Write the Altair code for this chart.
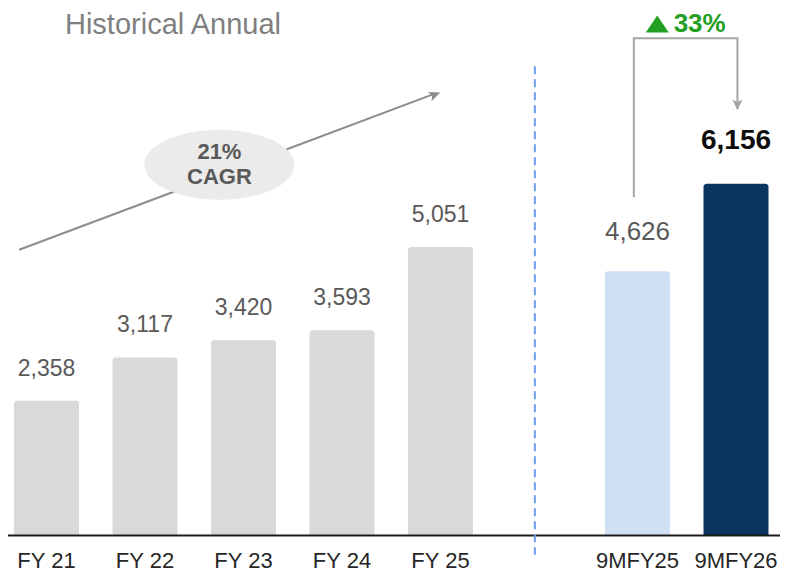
import altair as alt
import pandas as pd

# ---------------- data ----------------
categories = ["FY 21", "FY 22", "FY 23", "FY 24", "FY 25", "9MFY25", "9MFY26"]
values = [2358, 3117, 3420, 3593, 5051, 4626, 6156]
slots = [0, 1, 2, 3, 4, 6, 7]
groups = ["hist", "hist", "hist", "hist", "hist", "prev", "curr"]
bar_colors = ["#d9d9d9", "#d9d9d9", "#d9d9d9", "#d9d9d9", "#d9d9d9", "#cfe0f2", "#0b355f"]

title_text = "Historical Annual"
cagr_lines = ["21%", "CAGR"]
growth_text = "33%"

# annotation anchors (slot units, value units)
cagr_arrow_x = [-0.2775, 3.95]
cagr_arrow_y = [5002, 7740]
cagr_tip = (3.9975, 7757)
cagr_bubble = (1.7554, 6490)
cagr_text_y = [6708, 6273]
divider_x = 4.958
divider_y = [8213, -335]
bracket_x = [5.9627, 5.9627, 7.0145, 7.0145]
bracket_y = [5922, 8705, 8705, 7470]
bracket_tip = (7.0145, 7444)
triangle_pos = (6.2004, 8955)
growth_pos = (6.367, 8815)
title_pos = (0.1877, 8780)
cat_label_y = -569

# ---------------- layout ----------------
W, H = 772, 566
ZERO_PX = 527.5
K = 0.05712
Y_DOMAIN = [-(H - ZERO_PX) / K, ZERO_PX / K]
X_DOMAIN = [-0.5, 7.5]
X_RANGE = [-10.75, 777.25]
FONT = "Liberation Sans"

xs = alt.Scale(domain=X_DOMAIN, range=X_RANGE, nice=False, zero=False, padding=0)
ys = alt.Scale(domain=Y_DOMAIN, nice=False, zero=False, padding=0)


def X(f):
    return alt.X(f, type="quantitative", scale=xs, axis=None)


def Y(f):
    return alt.Y(f, type="quantitative", scale=ys, axis=None)


bars_df = pd.DataFrame({"cat": categories, "value": values, "slot": slots,
                        "group": groups, "color": bar_colors, "zero": 0})

# baseline axis line
axis_line = alt.Chart(pd.DataFrame({"x": [X_DOMAIN[0]], "x2": [X_DOMAIN[1]], "y": [0]})).mark_rule(
    color="#1a1a1a", strokeWidth=2).encode(x=X("x"), x2="x2", y=Y("y"))

bars = alt.Chart(bars_df).mark_bar(width=65, cornerRadiusTopLeft=3, cornerRadiusTopRight=3).encode(
    x=X("slot"), y=Y("value"), y2="zero", color=alt.Color("color:N", scale=None))

divider = alt.Chart(pd.DataFrame({"x": [divider_x], "y": [divider_y[0]], "y2": [divider_y[1]]})).mark_rule(
    color="#6d9eeb", strokeWidth=2, strokeDash=[8, 5]).encode(x=X("x"), y=Y("y"), y2="y2")

lab_hist = alt.Chart(bars_df[bars_df.group == "hist"]).mark_text(
    font=FONT, fontSize=23, color="#595959", baseline="alphabetic", dy=-25.3).encode(
    x=X("slot"), y=Y("value"), text=alt.Text("value:Q", format=","))
lab_prev = alt.Chart(bars_df[bars_df.group == "prev"]).mark_text(
    font=FONT, fontSize=26, color="#595959", baseline="alphabetic", dy=-31.5).encode(
    x=X("slot"), y=Y("value"), text=alt.Text("value:Q", format=","))
lab_curr = alt.Chart(bars_df[bars_df.group == "curr"]).mark_text(
    font=FONT, fontSize=28, fontWeight="bold", color="#0d0d0d", baseline="alphabetic", dy=-34.4).encode(
    x=X("slot"), y=Y("value"), text=alt.Text("value:Q", format=","))

cat_labels = alt.Chart(bars_df.assign(ly=cat_label_y)).mark_text(
    font=FONT, fontSize=22, color="#262626", baseline="alphabetic").encode(
    x=X("slot"), y=Y("ly"), text="cat:N")

# CAGR arrow
cagr_line = alt.Chart(pd.DataFrame({"x": [cagr_arrow_x[0]], "x2": [cagr_arrow_x[1]],
                                    "y": [cagr_arrow_y[0]], "y2": [cagr_arrow_y[1]]})).mark_rule(
    color="#8c8c8c", strokeWidth=2).encode(x=X("x"), x2="x2", y=Y("y"), y2="y2")
cagr_head = alt.Chart(pd.DataFrame({"x": [cagr_tip[0]], "y": [cagr_tip[1]]})).mark_point(
    shape="M0,0L-1.7,-0.75L-1.3,0L-1.7,0.75Z", filled=True, size=180, angle=338.7,
    color="#8c8c8c", opacity=1, strokeWidth=0).encode(x=X("x"), y=Y("y"))
bubble = alt.Chart(pd.DataFrame({"x": [cagr_bubble[0]], "y": [cagr_bubble[1]]})).mark_point(
    shape="M-1,0A1,0.467 0 1,1 1,0A1,0.467 0 1,1 -1,0Z", filled=True, size=22500,
    color="#ebebeb", opacity=1, strokeWidth=0).encode(x=X("x"), y=Y("y"))
bubble_text = alt.Chart(pd.DataFrame({"x": [cagr_bubble[0]] * 2, "y": cagr_text_y, "t": cagr_lines})).mark_text(
    font=FONT, fontSize=22, fontWeight="bold", color="#595959", baseline="middle").encode(
    x=X("x"), y=Y("y"), text="t:N")

# growth bracket
bracket = alt.Chart(pd.DataFrame({"x": bracket_x, "y": bracket_y, "o": [0, 1, 2, 3]})).mark_line(
    color="#a6a6a6", strokeWidth=2, strokeJoin="miter").encode(x=X("x"), y=Y("y"), order="o:Q")
bracket_head = alt.Chart(pd.DataFrame({"x": [bracket_tip[0]], "y": [bracket_tip[1]]})).mark_point(
    shape="M0,0L-0.8,-1.7L0,-1.3L0.8,-1.7Z", filled=True, size=160,
    color="#a6a6a6", opacity=1, strokeWidth=0).encode(x=X("x"), y=Y("y"))
triangle = alt.Chart(pd.DataFrame({"x": [triangle_pos[0]], "y": [triangle_pos[1]]})).mark_point(
    shape="M-1,0.74L1,0.74L0,-0.74Z", filled=True, size=529,
    color="#23a023", opacity=1, strokeWidth=0).encode(x=X("x"), y=Y("y"))
growth = alt.Chart(pd.DataFrame({"x": [growth_pos[0]], "y": [growth_pos[1]], "t": [growth_text]})).mark_text(
    font=FONT, fontSize=26, fontWeight="bold", color="#23a023", align="left", baseline="alphabetic").encode(
    x=X("x"), y=Y("y"), text="t:N")

title = alt.Chart(pd.DataFrame({"x": [title_pos[0]], "y": [title_pos[1]], "t": [title_text]})).mark_text(
    font=FONT, fontSize=29, color="#7f7f7f", align="left", baseline="alphabetic").encode(
    x=X("x"), y=Y("y"), text="t:N")

chart = alt.layer(
    bars, axis_line, divider, lab_hist, lab_prev, lab_curr, cat_labels,
    cagr_line, cagr_head, bubble, bubble_text,
    bracket, bracket_head, triangle, growth, title,
).properties(
    width=W, height=H, autosize=alt.AutoSizeParams(type="none"), padding=0
).configure_view(stroke=None)

chart.save("out.html", embed_options={"renderer": "svg", "actions": False})
